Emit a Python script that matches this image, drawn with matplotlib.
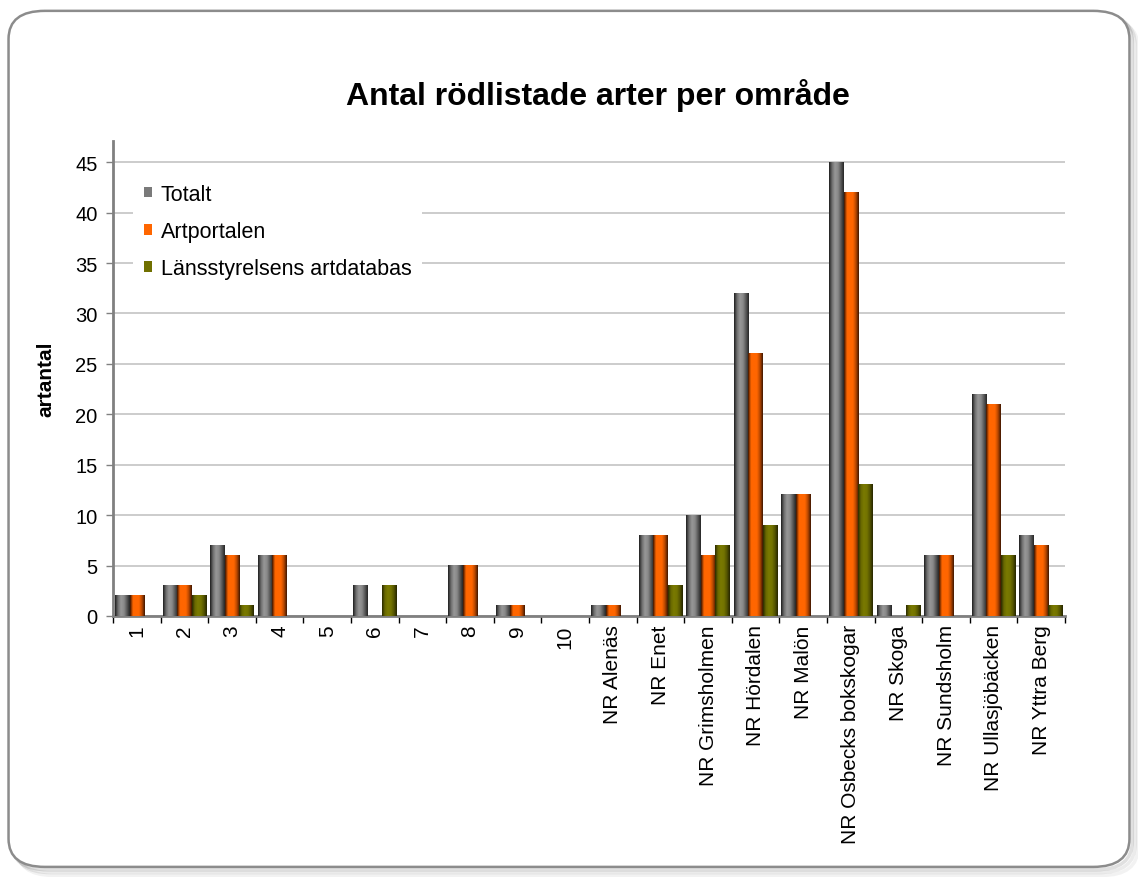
import numpy as np
import matplotlib
matplotlib.use("Agg")
import matplotlib.pyplot as plt
from matplotlib.patches import FancyBboxPatch, Patch
from matplotlib.colors import LinearSegmentedColormap

plt.rcParams['font.family'] = ['Liberation Sans', 'DejaVu Sans']

# Data
categories = ['1', '2', '3', '4', '5', '6', '7', '8', '9', '10',
              'NR Alenäs', 'NR Enet', 'NR Grimsholmen', 'NR Hördalen', 'NR Malön',
              'NR Osbecks bokskogar', 'NR Skoga', 'NR Sundsholm', 'NR Ullasjöbäcken',
              'NR Yttra Berg']
totalt = [2, 3, 7, 6, 0, 3, 0, 5, 1, 0, 1, 8, 10, 32, 12, 45, 1, 6, 22, 8]
artportalen = [2, 3, 6, 6, 0, 0, 0, 5, 1, 0, 1, 8, 6, 26, 12, 42, 0, 6, 21, 7]
lansstyrelsen = [0, 2, 1, 0, 0, 3, 0, 0, 0, 0, 0, 3, 7, 9, 0, 13, 1, 0, 6, 1]
series_names = ['Totalt', 'Artportalen', 'Länsstyrelsens artdatabas']

# cylinder-like shading for each series (left -> right)
shades = {
    'Totalt': ['#1e1e1e', '#6e6e6e', '#979797', '#8a8a8a', '#5a5a5a', '#262626'],
    'Artportalen': ['#3a1400', '#ff6600', '#ff6600', '#ff6600', '#b84800', '#401600'],
    'Länsstyrelsens artdatabas': ['#2a2a00', '#6a6a00', '#7a7a00', '#747400', '#555500', '#262600'],
}
legend_colors = ['#7a7a7a', '#ff6600', '#707000']

fig = plt.figure(figsize=(11.38, 8.78), dpi=100)

# rounded frame with soft shadow
for i, a in enumerate([0.05, 0.08, 0.12]):
    off = 0.0025 * (3 - i)
    fig.patches.append(FancyBboxPatch((0.0075 + off, 0.0115 - off * 1.3), 0.985, 0.975,
                                      boxstyle="round,pad=0,rounding_size=0.032",
                                      transform=fig.transFigure, facecolor='none',
                                      edgecolor=(0, 0, 0, a), linewidth=2.5, zorder=-3))
fig.patches.append(FancyBboxPatch((0.0075, 0.0115), 0.985, 0.975,
                                  boxstyle="round,pad=0,rounding_size=0.032",
                                  transform=fig.transFigure, facecolor='white',
                                  edgecolor='#8c8c8c', linewidth=1.8, zorder=-2))

ax = fig.add_axes([113 / 1138, 1 - 617 / 878, (1065 - 113) / 1138, (617 - 142) / 878])
ax.set_facecolor('none')

x = np.arange(len(categories))
w = 0.305
all_series = [totalt, artportalen, lansstyrelsen]
for k, (name, vals) in enumerate(zip(series_names, all_series)):
    bars = ax.bar(x + (k - 1) * w, vals, width=w, color='none', edgecolor='none', zorder=3)
    cmap = LinearSegmentedColormap.from_list(name, shades[name])
    grad = np.linspace(0, 1, 64).reshape(1, -1)
    for b in bars:
        h = b.get_height()
        if h <= 0:
            continue
        x0 = b.get_x()
        ax.imshow(grad, cmap=cmap, extent=[x0, x0 + b.get_width(), 0, h],
                  aspect='auto', origin='lower', zorder=3, interpolation='bilinear')

ax.set_xlim(-0.5, len(categories) - 0.5)
ax.set_ylim(0, 47.1)
ax.set_yticks(np.arange(0, 46, 5))
ax.yaxis.grid(True, color='#c4c4c4', linewidth=1.2, zorder=0)
ax.set_axisbelow(True)

ax.set_xticks(x)
ax.set_xticklabels(categories, rotation=90, fontsize=15)
ax.set_xticks(np.arange(-0.5, len(categories), 1), minor=True)
ax.tick_params(axis='x', which='major', length=0, pad=6)
ax.tick_params(axis='x', which='minor', length=5, width=1, color='black', direction='out')
ax.tick_params(axis='y', length=5, width=1, color='#808080', labelsize=14.5, pad=6)

for s in ['top', 'right']:
    ax.spines[s].set_visible(False)
ax.spines['left'].set_color('#808080')
ax.spines['left'].set_linewidth(2)
ax.spines['bottom'].set_color('#808080')
ax.spines['bottom'].set_linewidth(2)

ax.set_ylabel('artantal', fontsize=15, fontweight='bold')
ax.yaxis.set_label_coords(-0.061, 0.5)

handles = [Patch(facecolor=c, edgecolor='none') for c in legend_colors]
leg = ax.legend(handles, series_names, loc='upper left', bbox_to_anchor=(0.010, 0.955),
                fontsize=15.5, frameon=True, fancybox=False, edgecolor='none',
                facecolor='white', framealpha=1, handlelength=0.38, handleheight=0.38,
                handletextpad=0.4, labelspacing=0.75, borderpad=0.5)
leg.set_zorder(5)

fig.text(598 / 1138, 1 - 96 / 878, 'Antal rödlistade arter per område',
         ha='center', va='center', fontsize=23, fontweight='bold')

fig.savefig('out.png', dpi=100)
